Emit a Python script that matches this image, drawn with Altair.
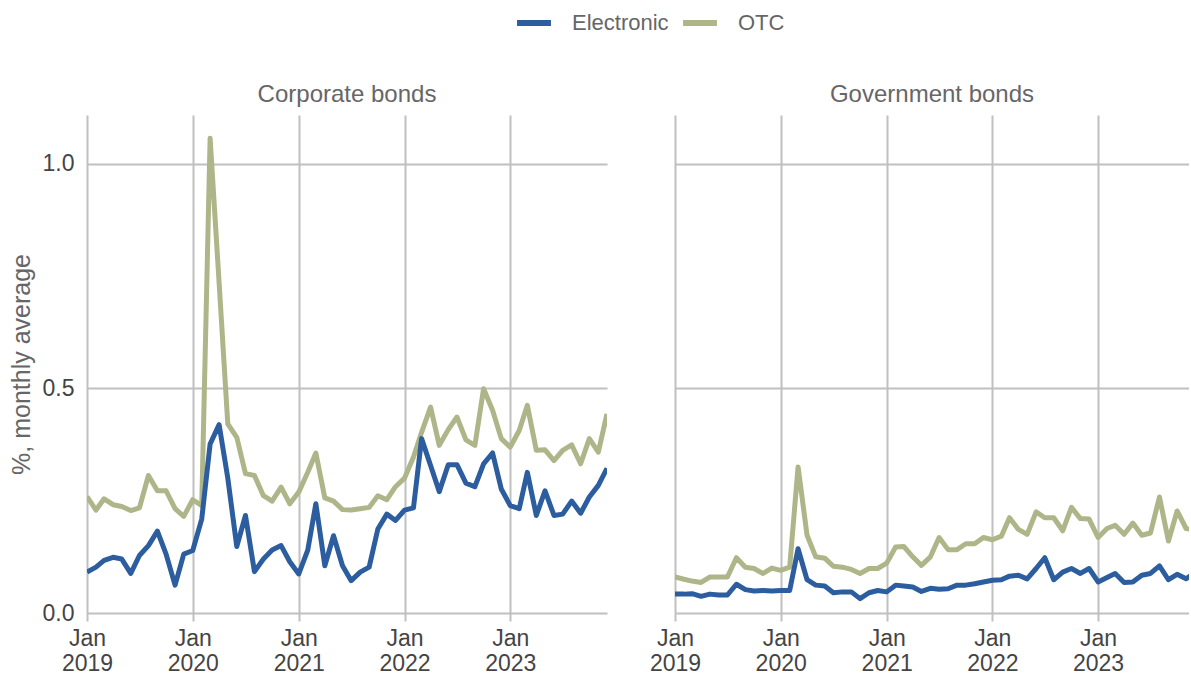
import altair as alt
import pandas as pd

months = pd.date_range("2019-01-01", "2023-12-01", freq="MS").strftime("%Y-%m-%d").tolist()

panels = ["Corporate bonds", "Government bonds"]
series_names = ["Electronic", "OTC"]

corp_otc = [0.259, 0.229, 0.254, 0.241, 0.237, 0.228, 0.234, 0.306, 0.272, 0.272, 0.232, 0.215,
            0.252, 0.239, 1.056, 0.735, 0.421, 0.391, 0.310, 0.306, 0.261, 0.249, 0.280, 0.243,
            0.269, 0.313, 0.356, 0.256, 0.249, 0.230, 0.229, 0.232, 0.235, 0.261, 0.252, 0.281,
            0.300, 0.347, 0.402, 0.458, 0.373, 0.408, 0.436, 0.385, 0.373, 0.499, 0.451, 0.388,
            0.369, 0.406, 0.462, 0.362, 0.363, 0.339, 0.362, 0.374, 0.332, 0.388, 0.358, 0.443]

corp_elec = [0.091, 0.102, 0.117, 0.124, 0.120, 0.088, 0.128, 0.150, 0.182, 0.131, 0.062, 0.131,
             0.139, 0.209, 0.376, 0.419, 0.300, 0.148, 0.217, 0.092, 0.120, 0.140, 0.150, 0.114,
             0.087, 0.140, 0.243, 0.105, 0.172, 0.105, 0.072, 0.091, 0.102, 0.187, 0.220, 0.206,
             0.229, 0.234, 0.388, 0.328, 0.270, 0.330, 0.330, 0.289, 0.281, 0.332, 0.356, 0.276,
             0.239, 0.232, 0.313, 0.217, 0.272, 0.217, 0.220, 0.249, 0.222, 0.258, 0.284, 0.322]

gov_otc = [0.080, 0.075, 0.071, 0.068, 0.080, 0.080, 0.080, 0.123, 0.102, 0.099, 0.088, 0.100,
           0.095, 0.102, 0.325, 0.173, 0.125, 0.122, 0.104, 0.102, 0.097, 0.088, 0.099, 0.099,
           0.111, 0.147, 0.148, 0.125, 0.106, 0.125, 0.168, 0.141, 0.141, 0.154, 0.154, 0.168,
           0.163, 0.171, 0.212, 0.186, 0.175, 0.225, 0.212, 0.212, 0.183, 0.235, 0.210, 0.209,
           0.168, 0.188, 0.195, 0.175, 0.200, 0.173, 0.178, 0.258, 0.160, 0.227, 0.188, 0.185]

gov_elec = [0.042, 0.042, 0.043, 0.037, 0.042, 0.040, 0.040, 0.064, 0.052, 0.049, 0.050, 0.049,
            0.050, 0.050, 0.143, 0.074, 0.062, 0.060, 0.045, 0.047, 0.047, 0.032, 0.045, 0.050,
            0.047, 0.062, 0.060, 0.058, 0.048, 0.055, 0.053, 0.054, 0.062, 0.062, 0.065, 0.069,
            0.073, 0.074, 0.082, 0.084, 0.076, 0.099, 0.123, 0.074, 0.091, 0.099, 0.088, 0.099,
            0.069, 0.079, 0.088, 0.068, 0.069, 0.084, 0.088, 0.105, 0.074, 0.086, 0.076, 0.090]

tick_years = [2019, 2020, 2021, 2022, 2023]
y_ticks = [0.0, 0.5, 1.0]

rows = []
for panel, elec, otc in [(panels[0], corp_elec, corp_otc), (panels[1], gov_elec, gov_otc)]:
    for d, e, o in zip(months, elec, otc):
        rows.append({"date": d, "panel": panel, "series": "OTC", "value": o, "ord": 0})
        rows.append({"date": d, "panel": panel, "series": "Electronic", "value": e, "ord": 1})
df = pd.DataFrame(rows)

BLUE = "#2C5D9E"
GREEN = "#AEB689"
GRID = "#C0C0C0"
FONT = "Liberation Sans"


def make_panel(panel, width, x_end, show_y):
    x_enc = alt.X(
        "date:T",
        scale=alt.Scale(type="utc", nice=False,
                        domain=[alt.DateTime(year=2019, month=1, date=1, utc=True), x_end]),
        axis=alt.Axis(
            title=None,
            values=[alt.DateTime(year=y, month=1, date=1, utc=True) for y in tick_years],
            labelExpr="[utcFormat(datum.value, '%b'), utcFormat(datum.value, '%Y')]",
            grid=True, gridColor=GRID, gridWidth=2,
            domain=False, ticks=True, tickSize=8, tickColor=GRID, tickWidth=2,
            labelFontSize=23, labelColor="#444444", labelFont=FONT, labelPadding=6,
            labelLineHeight=25, labelFlush=False, labelOverlap=False,
        ),
    )
    if show_y:
        y_axis = alt.Axis(
            title="%, monthly average", values=y_ticks, format=".1f",
            grid=True, gridColor=GRID, gridWidth=2,
            domain=False, ticks=False, labelPadding=13,
            labelFontSize=23, labelColor="#444444", labelFont=FONT,
            titleFontSize=25, titleColor="#666666", titleFont=FONT, titleFontWeight="normal",
            titlePadding=8,
        )
    else:
        y_axis = alt.Axis(
            title=None, values=y_ticks, labels=False, grid=True, gridColor=GRID, gridWidth=2,
            domain=False, ticks=False,
        )
    y_enc = alt.Y("value:Q", scale=alt.Scale(domain=[0, 1.108], nice=False, zero=True), axis=y_axis)
    return alt.Chart(df).transform_filter(alt.datum.panel == panel).mark_line(
        strokeWidth=5, strokeJoin="round", strokeCap="butt", clip=True
    ).encode(
        x=x_enc,
        y=y_enc,
        color=alt.Color(
            "series:N",
            scale=alt.Scale(domain=series_names, range=[BLUE, GREEN]),
            legend=alt.Legend(
                title=None, orient="none", direction="horizontal",
                legendX=427, legendY=-112,
                symbolType="stroke", symbolStrokeWidth=6, symbolSize=1150,
                labelFontSize=22, labelColor="#666666", labelFont=FONT,
                labelOffset=18, columnPadding=2,
            ),
        ),
        detail="ord:N",
    ).properties(
        width=width, height=498,
        title=alt.TitleParams(panel, fontSize=24, color="#666666", font=FONT,
                              fontWeight="normal", anchor="middle", offset=8),
    )


left = make_panel(panels[0], 520, alt.DateTime(year=2023, month=12, date=1, utc=True), True)
right = make_panel(panels[1], 514, alt.DateTime(year=2023, month=11, date=11, utc=True), False)

chart = alt.hconcat(left, right, spacing=42).configure_view(strokeWidth=0).properties(
    padding={"left": 9, "top": 3, "right": 0, "bottom": 0}
)

chart.save("out.html", embed_options={"renderer": "svg", "actions": False})
